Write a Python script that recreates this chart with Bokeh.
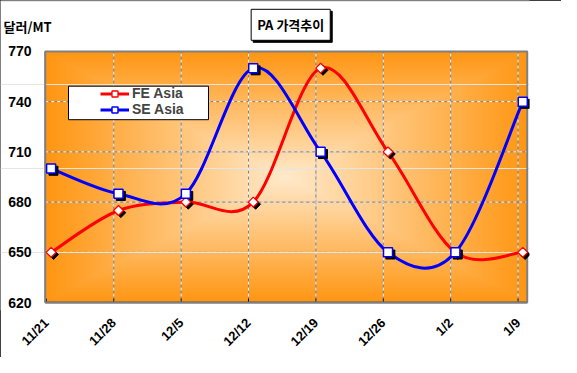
import numpy as np
from math import pi
from bokeh.plotting import figure
from bokeh.models import (ColumnDataSource, FixedTicker, Range1d, Label, LabelSet,
                          Legend, LegendItem, BoxAnnotation)
from bokeh.core.properties import value
from bokeh.transform import dodge
from bokeh.embed import file_html
from bokeh.resources import INLINE

# ---- data ----
categories = ["11/21", "11/28", "12/5", "12/12", "12/19", "12/26", "1/2", "1/9"]
fe_asia = [650, 675, 680, 680, 760, 710, 650, 650]
se_asia = [700, 685, 685, 760, 710, 650, 650, 740]
y_ticks = [620, 650, 680, 710, 740, 770]
y_tick_labels = [str(v) for v in y_ticks]

# ---- layout constants (pixels) ----
W, H = 561, 357
EXT = 8                    # frame extends this far below the plot area
FRAME_BOTTOM = 44          # px below the frame (x-axis labels)
FRAME_RIGHT = 32           # px right of the frame
FRAME_W = W - FRAME_RIGHT
FRAME_H = H - FRAME_BOTTOM
PX_PER_X = 67.38
TICK0_PX = 45.9
PX_PER_Y = 1.6907

POINT_SHIFT = 0.07         # points sit slightly right of the category ticks
X0, X1 = -0.017, 7.136     # plot-area extent in x
Y0, Y1 = 620, 770          # plot-area extent in y
XS = -TICK0_PX / PX_PER_X
XE = (FRAME_W - TICK0_PX) / PX_PER_X
YS = Y0 - EXT / PX_PER_Y
YE = YS + FRAME_H / PX_PER_Y

x_ticks = list(range(len(categories)))
xpos = np.array(x_ticks, float) + POINT_SHIFT


def bezier_source(xs, ys, k=1.0 / 6.0):
    xs = np.asarray(xs, float)
    ys = np.asarray(ys, float)
    xp = np.concatenate([[xs[0]], xs, [xs[-1]]])
    yp = np.concatenate([[ys[0]], ys, [ys[-1]]])
    d = {key: [] for key in ("x0", "y0", "x1", "y1", "cx0", "cy0", "cx1", "cy1")}
    for i in range(len(xs) - 1):
        p0, p1, p2, p3 = i, i + 1, i + 2, i + 3
        d["x0"].append(xp[p1]); d["y0"].append(yp[p1])
        d["x1"].append(xp[p2]); d["y1"].append(yp[p2])
        d["cx0"].append(xp[p1] + (xp[p2] - xp[p0]) * k)
        d["cy0"].append(yp[p1] + (yp[p2] - yp[p0]) * k)
        d["cx1"].append(xp[p2] - (xp[p3] - xp[p1]) * k)
        d["cy1"].append(yp[p2] - (yp[p3] - yp[p1]) * k)
    return ColumnDataSource(d)


p = figure(width=W, height=H,
           x_range=Range1d(XS, XE), y_range=Range1d(YS, YE),
           output_backend="svg", toolbar_location=None, y_axis_location=None,
           min_border_left=0, min_border_right=FRAME_RIGHT,
           min_border_top=0, min_border_bottom=FRAME_BOTTOM,
           background_fill_color="white", border_fill_color="white",
           outline_line_color=None,
           styles={"outline": "1px solid black", "outline-offset": "-1px"})
p.xgrid.visible = False

# ---- gradient background (rectangular "from centre" gradient) ----
GH, GW = 254, 482
yy, xx = np.mgrid[0:GH, 0:GW]
dx = np.abs((xx + 0.5) / GW - 0.5) * 2
dy = np.abs((yy + 0.5) / GH - 0.5) * 2
t = np.maximum(dx, dy)
c0 = np.array([255, 234, 204], float)
c1 = np.array([255, 150, 18], float)
rgb = c0 + (c1 - c0) * t[..., None]
img = np.empty((GH, GW), dtype=np.uint32)
view = img.view(dtype=np.uint8).reshape((GH, GW, 4))
view[..., 0] = rgb[..., 0]
view[..., 1] = rgb[..., 1]
view[..., 2] = rgb[..., 2]
view[..., 3] = 255
p.image_rgba(image=[img], x=X0, y=Y0, dw=X1 - X0, dh=Y1 - Y0, level="image")

# ---- grid lines (limited to the plot area) ----
vx = x_ticks[1:]
hy = y_ticks[1:-1]
for color, dash in (("#808080", "solid"), ("white", "3 3")):
    p.segment(x0=vx, y0=[Y0] * len(vx), x1=vx, y1=[Y1] * len(vx),
              line_color=color, line_dash=dash, line_width=1, level="underlay")
    p.segment(x0=[X0] * len(hy), y0=hy, x1=[X1] * len(hy), y1=hy,
              line_color=color, line_dash=dash, line_width=1, level="underlay")

# plot-area border, axis lines and tick marks
p.add_layout(BoxAnnotation(left=X0, right=X1, bottom=Y0, top=Y1,
                           fill_alpha=0, line_color="#808080", line_width=2,
                           line_alpha=1.0, level="underlay"))
p.segment(x0=[X0], y0=[Y0], x1=[X0], y1=[Y1], line_color="black", line_width=1,
          level="underlay")
p.segment(x0=[X0], y0=[Y0], x1=[X1], y1=[Y0], line_color="black", line_width=1.5,
          level="underlay")
p.segment(x0=x_ticks, y0=[Y0] * len(x_ticks), x1=x_ticks,
          y1=[Y0 + 4 / PX_PER_Y] * len(x_ticks),
          line_color="black", line_width=1, level="underlay")

# ---- x axis (labels only; sits EXT px below the plot area) ----
xa = p.xaxis[0]
xa.ticker = FixedTicker(ticks=x_ticks)
xa.major_label_overrides = {i: c for i, c in enumerate(categories)}
xa.major_label_orientation = pi / 4
xa.major_tick_line_color = None
xa.minor_tick_line_color = None
xa.axis_line_color = None
xa.major_tick_in = 0
xa.major_tick_out = 0
xa.major_label_standoff = 10
xa.major_label_text_font = "Liberation Sans"
xa.major_label_text_font_style = "bold"
xa.major_label_text_font_size = "13px"
xa.major_label_text_color = "black"

# ---- y tick labels ----
ysrc = ColumnDataSource(dict(y=y_ticks, text=y_tick_labels))
p.add_layout(LabelSet(x=31, y="y", x_units="screen", text="text", source=ysrc,
                      text_align="right", text_baseline="middle",
                      text_font=value("Liberation Sans"), text_font_style="bold",
                      text_font_size="14px", text_color="black"))

# ---- series ----
src = ColumnDataSource(dict(x=xpos, fe=fe_asia, se=se_asia))
fe_bez = p.bezier(x0="x0", y0="y0", x1="x1", y1="y1", cx0="cx0", cy0="cy0",
                  cx1="cx1", cy1="cy1", source=bezier_source(xpos, fe_asia),
                  line_color="#FF0000", line_width=3)
se_bez = p.bezier(x0="x0", y0="y0", x1="x1", y1="y1", cx0="cx0", cy0="cy0",
                  cx1="cx1", cy1="cy1", source=bezier_source(xpos, se_asia),
                  line_color="#0000FF", line_width=3)

# marker shadows
p.scatter(x=dodge("x", 0.035, range=p.x_range), y=dodge("fe", -1.3, range=p.y_range),
          source=src, marker="square", angle=pi / 4, size=7,
          fill_color="black", line_color="black")
p.scatter(x=dodge("x", 0.035, range=p.x_range), y=dodge("se", -1.3, range=p.y_range),
          source=src, marker="square", size=9,
          fill_color="black", line_color="black")

fe_sc = p.scatter(x="x", y="fe", source=src, marker="square", angle=pi / 4, size=7,
                  fill_color="white", line_color="#FF0000", line_width=1.3)
se_sc = p.scatter(x="x", y="se", source=src, marker="square", size=9,
                  fill_color="white", line_color="#0000FF", line_width=1.5)

# ---- legend ----
BOT = EXT  # screen y offset of the plot-area bottom inside the frame
p.add_layout(BoxAnnotation(left=68, right=208, top=216.3 + BOT, bottom=182.8 + BOT,
                           left_units="screen", right_units="screen",
                           top_units="screen", bottom_units="screen",
                           fill_color="white", fill_alpha=1.0,
                           line_color="black", line_width=1, line_alpha=1.0))
legend = Legend(items=[LegendItem(label="FE Asia", renderers=[fe_bez, fe_sc]),
                       LegendItem(label="SE Asia", renderers=[se_bez, se_sc])],
                location=(100, 185 + BOT), padding=0, spacing=0, margin=0,
                glyph_width=29, glyph_height=15, label_height=15, label_standoff=3,
                background_fill_alpha=0, border_line_color=None,
                label_text_font="Liberation Sans", label_text_font_style="bold",
                label_text_font_size="14px")
p.add_layout(legend)

# ---- title box & unit label ----
TITLE = "PA 가격추이"
p.add_layout(Label(x=292.2, y=275.7 + BOT, x_units="screen", y_units="screen",
                   text=TITLE, text_align="center", text_baseline="middle",
                   text_font="Noto Sans CJK KR", text_font_style="bold",
                   text_font_size="13px", text_color="black",
                   background_fill_color="black", border_line_color="black",
                   padding=6))
p.add_layout(Label(x=290.2, y=277.7 + BOT, x_units="screen", y_units="screen",
                   text=TITLE, text_align="center", text_baseline="middle",
                   text_font="Noto Sans CJK KR", text_font_style="bold",
                   text_font_size="13px", text_color="black",
                   background_fill_color="white", border_line_color="black",
                   padding=6))
p.add_layout(Label(x=3, y=276.3 + BOT, x_units="screen", y_units="screen",
                   text="달러/MT", text_align="left", text_baseline="middle",
                   text_font="Noto Sans CJK KR", text_font_style="bold",
                   text_font_size="13px", text_color="black"))

open("out.html", "w").write(file_html(p, INLINE))
